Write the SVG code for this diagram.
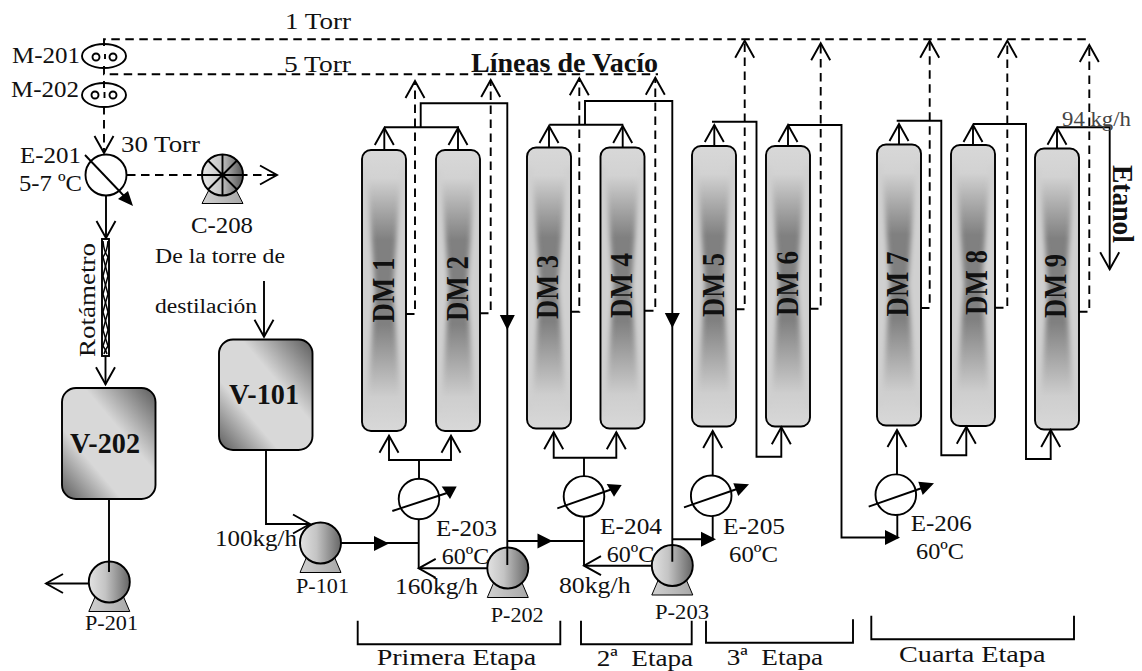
<svg xmlns="http://www.w3.org/2000/svg" width="1142" height="671" viewBox="0 0 1142 671">
<style>
text{font-family:"Liberation Serif","DejaVu Serif",serif;font-size:24px;fill:#111}
.b{font-weight:bold}
.dm{font-weight:bold;font-size:32px}
.v{font-weight:bold;font-size:29px}
.s{font-size:22px}
.t{font-size:20px}
.o{fill:none;stroke:#000;stroke-width:1.9}
.d{fill:none;stroke:#000;stroke-width:1.9;stroke-dasharray:8.5 5.5}
.a{marker-end:url(#open)}
.f{marker-end:url(#solid)}
.w{fill:#fff;stroke:#000;stroke-width:1.9}
.tank{stroke:#000;stroke-width:1.9;fill:url(#gt)}
.col{stroke:#000;stroke-width:1.9;fill:none}
.pc{stroke:#000;stroke-width:1.9;fill:url(#gp)}
.pb{stroke:#000;stroke-width:1;fill:url(#gb)}
.ah{fill:#000;stroke:none}
</style>
<defs>
<marker id="open" markerUnits="userSpaceOnUse" markerWidth="40" markerHeight="40" refX="20" refY="20" orient="auto" overflow="visible"><path d="M3,10.5 L20,20 L3,29.5" fill="none" stroke="#000" stroke-width="1.9"/></marker>
<marker id="solid" markerUnits="userSpaceOnUse" markerWidth="40" markerHeight="40" refX="20" refY="20" orient="auto" overflow="visible"><path d="M5,12.5 L20,20 L5,27.5 Z" fill="#000"/></marker>
<linearGradient id="gt" x1="0" y1="1" x2="1" y2="0"><stop offset="0" stop-color="#5a5a5a"/><stop offset=".32" stop-color="#d8d8d8"/><stop offset=".62" stop-color="#d8d8d8"/><stop offset="1" stop-color="#5a5a5a"/></linearGradient>
<linearGradient id="gp" x1="0" y1="0" x2="1" y2="0"><stop offset="0" stop-color="#e2e2e2"/><stop offset=".4" stop-color="#c4c4c4"/><stop offset="1" stop-color="#666"/></linearGradient>
<linearGradient id="gb" x1="0" y1="0" x2="1" y2="0"><stop offset="0" stop-color="#d0d0d0"/><stop offset="1" stop-color="#a8a8a8"/></linearGradient>
<linearGradient id="gc" x1="0" y1="0" x2="1" y2="0"><stop offset="0" stop-color="#e8e8e8"/><stop offset=".45" stop-color="#c8c8c8"/><stop offset="1" stop-color="#555"/></linearGradient>
<linearGradient id="gv" x1="0" y1="0" x2="0" y2="1"><stop offset="0" stop-color="#d8d8d8"/><stop offset=".1" stop-color="#d2d2d2"/><stop offset=".32" stop-color="#808080"/><stop offset=".62" stop-color="#808080"/><stop offset=".88" stop-color="#cecece"/><stop offset="1" stop-color="#d8d8d8"/></linearGradient>
<filter id="bl" x="-50%" y="-10%" width="200%" height="120%"><feGaussianBlur stdDeviation="2.6"/></filter>
<clipPath id="cc"><rect width="44" height="281" rx="9"/></clipPath>
<g id="dmfill"><g clip-path="url(#cc)"><rect width="44" height="281" fill="url(#gv)"/>
<g filter="url(#bl)" fill="#d0d0d0"><polygon points="-6,20 5,20 13,140 5,262 -6,262"/><polygon points="50,20 39,20 31,140 39,262 50,262"/></g></g></g>
<g id="pump"><polygon class="pb" points="-20.5,29.5 20.5,29.5 13,12 -13,12"/><circle class="pc" r="20.5"/></g>
</defs>
<rect width="1142" height="671" fill="#fff"/>

<g id="M-201"><ellipse class="w" cx="104" cy="56" rx="22" ry="12"/><circle class="w" cx="96" cy="57" r="3.5"/><circle class="w" cx="113" cy="57" r="3.5"/><path class="o" d="M105,54V59"/><text x="12" y="63" textLength="68" lengthAdjust="spacingAndGlyphs">M-201</text></g>
<g id="M-202"><ellipse class="w" cx="104" cy="95" rx="22" ry="12"/><circle class="w" cx="95" cy="95" r="3.5"/><circle class="w" cx="113" cy="95" r="3.5"/><path class="o" d="M104.500,92V98"/><text x="11" y="97" textLength="68" lengthAdjust="spacingAndGlyphs">M-202</text></g>
<g id="E-201"><circle class="w" cx="106" cy="175" r="20.5"/><path class="o" d="M85,155L125,197"/><polygon class="ah" points="118,199 128,191 133,206"/><text x="20" y="163" textLength="61" lengthAdjust="spacingAndGlyphs">E-201</text><text x="19" y="191" textLength="63" lengthAdjust="spacingAndGlyphs">5-7 ºC</text></g>
<g id="C-208"><polygon class="pb" points="202,203.500 243,203.500 232,182 213,182"/><circle cx="222.500" cy="175" r="20.500" fill="url(#gc)" stroke="#000" stroke-width="1.900"/><path class="o" d="M222.500,154.500V195.500M202,175H243M208,160.500L237,189.500M208,189.500L237,160.500"/><text x="191" y="233" textLength="62" lengthAdjust="spacingAndGlyphs">C-208</text></g>
<g id="rotametro"><rect class="w" x="102" y="239" width="7" height="117"/><path fill="none" stroke="#000" stroke-width="1.500" d="M103,241Q104,252 108,257Q105,268 103,276Q106,287 108,294Q105,304 103,312Q106,322 108,330Q105,340 103,346Q106,350 107,354"/><path fill="none" stroke="#000" stroke-width="1.500" d="M108,241Q107,252 103,257Q106,268 108,276Q105,287 103,294Q106,304 108,312Q105,322 103,330Q106,340 108,346Q105,350 104,354"/><text transform="translate(95,357) rotate(-90)" x="0" y="0" textLength="114" lengthAdjust="spacingAndGlyphs">Rotámetro</text></g>
<g id="V-202"><rect class="tank" x="62" y="388" width="93.500" height="111" rx="14"/><text class="v" x="70" y="453" textLength="70" lengthAdjust="spacingAndGlyphs">V-202</text></g>
<g id="V-101"><rect class="tank" x="219" y="339.500" width="93.500" height="110.500" rx="14"/><text class="v" x="229" y="404" textLength="70" lengthAdjust="spacingAndGlyphs">V-101</text></g>
<g id="P-201"><use href="#pump" x="109.300" y="582"/><text class="s" x="85" y="630" textLength="53" lengthAdjust="spacingAndGlyphs">P-201</text></g>
<g id="P-101"><use href="#pump" x="320.500" y="543"/><text class="s" x="296" y="592.700" textLength="53" lengthAdjust="spacingAndGlyphs">P-101</text></g>
<g id="P-202"><use href="#pump" x="507.800" y="568"/><text class="s" x="490.700" y="622" textLength="53" lengthAdjust="spacingAndGlyphs">P-202</text></g>
<g id="P-203"><use href="#pump" x="672.300" y="565.500"/><text class="s" x="655" y="619" textLength="54" lengthAdjust="spacingAndGlyphs">P-203</text></g>

<g id="DM1"><use href="#dmfill" x="362" y="150"/><rect class="col" x="362" y="150" width="44" height="281" rx="9"/><text class="dm" transform="translate(394,322.500) rotate(-90)" textLength="65" lengthAdjust="spacingAndGlyphs">DM 1</text></g>
<g id="DM2"><use href="#dmfill" x="436" y="150"/><rect class="col" x="436" y="150" width="44" height="281" rx="9"/><text class="dm" transform="translate(467.500,321) rotate(-90)" textLength="65" lengthAdjust="spacingAndGlyphs">DM 2</text></g>
<g id="DM3"><use href="#dmfill" x="527" y="147.500"/><rect class="col" x="527" y="147.500" width="44" height="281" rx="9"/><text class="dm" transform="translate(558,319) rotate(-90)" textLength="64" lengthAdjust="spacingAndGlyphs">DM 3</text></g>
<g id="DM4"><use href="#dmfill" x="600.500" y="147.500"/><rect class="col" x="600.500" y="147.500" width="44" height="281" rx="9"/><text class="dm" transform="translate(632,318) rotate(-90)" textLength="65" lengthAdjust="spacingAndGlyphs">DM 4</text></g>
<g id="DM5"><use href="#dmfill" x="692" y="146"/><rect class="col" x="692" y="146" width="44" height="280.500" rx="9"/><text class="dm" transform="translate(724,317) rotate(-90)" textLength="64" lengthAdjust="spacingAndGlyphs">DM 5</text></g>
<g id="DM6"><use href="#dmfill" x="766" y="146"/><rect class="col" x="766" y="146" width="44" height="280.500" rx="9"/><text class="dm" transform="translate(797.500,316) rotate(-90)" textLength="65" lengthAdjust="spacingAndGlyphs">DM 6</text></g>
<g id="DM7"><use href="#dmfill" x="877" y="144.500"/><rect class="col" x="877" y="144.500" width="44" height="281" rx="9"/><text class="dm" transform="translate(908,316.500) rotate(-90)" textLength="65" lengthAdjust="spacingAndGlyphs">DM 7</text></g>
<g id="DM8"><use href="#dmfill" x="951" y="145"/><rect class="col" x="951" y="145" width="44" height="281" rx="9"/><text class="dm" transform="translate(986.500,315) rotate(-90)" textLength="65" lengthAdjust="spacingAndGlyphs">DM 8</text></g>
<g id="DM9"><use href="#dmfill" x="1035" y="148.500"/><rect class="col" x="1035" y="148.500" width="44" height="281" rx="9"/><text class="dm" transform="translate(1066,318) rotate(-90)" textLength="64" lengthAdjust="spacingAndGlyphs">DM 9</text></g>

<g id="E-203"><circle class="w" cx="419" cy="499" r="20.300"/><path class="o" d="M392.300,511L447,493"/><polygon class="ah" points="441.700,486.500 456.700,486.500 450,499"/><text x="436" y="535.700" textLength="61" lengthAdjust="spacingAndGlyphs">E-203</text><text x="441.700" y="564" textLength="47.500" lengthAdjust="spacingAndGlyphs">60ºC</text></g>
<g id="E-204"><circle class="w" cx="584" cy="496.400" r="20.300"/><path class="o" d="M557.300,508.300L611,489.500"/><polygon class="ah" points="606.700,484 621.700,485 614,496.700"/><text x="600" y="533.700" textLength="62" lengthAdjust="spacingAndGlyphs">E-204</text><text x="606.700" y="562" textLength="47.500" lengthAdjust="spacingAndGlyphs">60ºC</text></g>
<g id="E-205"><circle class="w" cx="711.200" cy="495.800" r="20.300"/><path class="o" d="M684,507.300L737,489"/><polygon class="ah" points="733.300,483.300 749,484.300 738.300,496"/><text x="723" y="534" textLength="62" lengthAdjust="spacingAndGlyphs">E-205</text><text x="729" y="561.700" textLength="49" lengthAdjust="spacingAndGlyphs">60ºC</text></g>
<g id="E-206"><circle class="w" cx="895.800" cy="494.700" r="20.300"/><path class="o" d="M868.700,506.700L922,488"/><polygon class="ah" points="918.300,481.700 934,483.300 922.700,495"/><text x="910.700" y="531" textLength="61" lengthAdjust="spacingAndGlyphs">E-206</text><text x="916" y="559" textLength="48" lengthAdjust="spacingAndGlyphs">60ºC</text></g>

<g id="connectors">
<g id="vacuum">
<path class="d" d="M104,46V39.300H1090.700"/><path class="d" d="M104,66V74.300H658"/><path class="d" d="M104,81V88"/>
<path class="d a" d="M104,106V153"/>
<path class="d a" d="M127,175H277"/>
<path class="d a" d="M406,314H415V81"/>
<path class="d a" d="M480,313.300H490.700V80"/>
<path class="d a" d="M571,311.700H579.300V78.300"/>
<path class="d a" d="M645,310.700H655.300V77.700"/>
<path class="d a" d="M736,309.300H744.700V40.700"/>
<path class="d a" d="M810,308.700H820.700V43.300"/>
<path class="d a" d="M921,308H929.700V40.700"/>
<path class="d a" d="M995,307.700H1007.300V40.700"/>
<path class="d a" d="M1079,311.700H1089.300V45"/>
</g>
<path class="o a" d="M106,195V238"/>
<path class="o a" d="M105.500,356V384.300"/>
<path class="o" d="M109,499V572"/>
<path class="o a" d="M88.700,583.500H46"/>
<path class="o a" d="M264,281V336.700"/>
<path class="o a" d="M266,450V524H310"/>
<path class="o" d="M341,543H418.700"/><path class="f" d="M373,543.500H389"/>
<path class="o" d="M418.700,519.300V568.300"/>
<path class="o a" d="M487,568.300H418.700"/>
<path class="o" d="M419,479V460"/>
<path class="o a" d="M419,460H389V435.700"/>
<path class="o a" d="M419,460H451V435.700"/>
<path class="o" d="M507.300,565V103.300H420.700V127.300"/><path class="f" d="M507.300,316V330"/>
<path class="o" d="M384,127.300H459"/>
<path class="o a" d="M384.300,150V128"/><path class="o a" d="M458,150V128"/>
<path class="o" d="M507.300,541H584"/><path class="f" d="M539,541H552.500"/>
<path class="o" d="M584,516.700V565"/>
<path class="o a" d="M652,565.700H584"/>
<path class="o" d="M584,476V457.700"/>
<path class="o a" d="M584,457.700H553.700V432.300"/>
<path class="o a" d="M584,457.700H616.300V432.300"/>
<path class="o" d="M672.300,561.700V101H585V124.700"/><path class="f" d="M672.300,314V328"/>
<path class="o" d="M549.300,124.700H623.300"/>
<path class="o a" d="M549,147.500V126"/><path class="o a" d="M622.700,147.500V126"/>
<path class="o" d="M672.300,539.300H712.700V516"/><path class="f" d="M702,539.300H716"/>
<path class="o a" d="M712.700,475.500V431"/>
<path class="o a" d="M714.300,146V125"/>
<path class="o a" d="M712,121.700H756.500V456.700H781.300V427.300"/>
<path class="o a" d="M788,146V125"/>
<path class="o" d="M788,125H841.500V537.500H897.300V515"/><path class="f" d="M885,537.500H900"/>
<path class="o a" d="M897,474.500V430"/>
<path class="o a" d="M899,144.500V124"/>
<path class="o a" d="M896.700,120.700H941.300V455.300H966.300V426.700"/>
<path class="o a" d="M973,145V125"/>
<path class="o a" d="M973,124H1026V459H1050.700V430"/>
<path class="o a" d="M1057,148.500V127.700"/>
<path class="o a" d="M1057,127.300H1109.700V269.300"/>
</g>

<g id="brackets">
<path class="o" d="M357.700,620.700V644.300H560.300V620.700"/>
<path class="o" d="M581,620.700V644.300H691.700V620.700"/>
<path class="o" d="M706,620.700V642.700H853V619.300"/>
<path class="o" d="M871.300,615.700V639.300H1074V615.700"/>
</g>
<g id="labels">
<text x="285" y="29" textLength="66" lengthAdjust="spacingAndGlyphs">1 Torr</text>
<text x="284" y="72" textLength="67" lengthAdjust="spacingAndGlyphs">5 Torr</text>
<text x="121" y="152" textLength="79" lengthAdjust="spacingAndGlyphs">30 Torr</text>
<text class="t" x="155" y="263" textLength="130" lengthAdjust="spacingAndGlyphs">De la torre de</text>
<text class="t" x="155" y="313" textLength="102" lengthAdjust="spacingAndGlyphs">destilación</text>
<text x="215" y="545.700" textLength="82" lengthAdjust="spacingAndGlyphs">100kg/h</text>
<text x="395" y="594" textLength="83" lengthAdjust="spacingAndGlyphs">160kg/h</text>
<text x="559" y="592.700" textLength="71.500" lengthAdjust="spacingAndGlyphs">80kg/h</text>
<text class="b" style="font-size:27px" x="471" y="72" textLength="187" lengthAdjust="spacingAndGlyphs">Líneas de Vacío</text>
<text x="1062" y="125.700" style="font-size:21px;fill:#444" textLength="69" lengthAdjust="spacingAndGlyphs">94 kg/h</text>
<text class="b" style="font-size:29px" transform="translate(1113,165) rotate(90)" textLength="78" lengthAdjust="spacingAndGlyphs">Etanol</text>
<text x="376.700" y="665" textLength="159.500" lengthAdjust="spacingAndGlyphs">Primera Etapa</text>
<text x="596.700" y="666" textLength="96.500" lengthAdjust="spacingAndGlyphs" xml:space="preserve">2ª  Etapa</text>
<text x="726.700" y="665" textLength="96.500" lengthAdjust="spacingAndGlyphs" xml:space="preserve">3ª  Etapa</text>
<text x="899" y="661.700" textLength="146.500" lengthAdjust="spacingAndGlyphs">Cuarta Etapa</text>
</g>
</svg>
